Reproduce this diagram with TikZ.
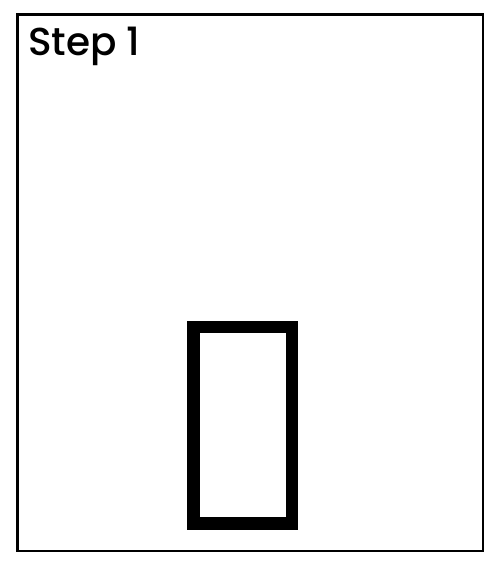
\documentclass[tikz,border=0pt]{standalone}
\usepackage{fontspec}
\setmainfont{Poppins Medium}
\usepackage{tikz}

\begin{document}
\begin{tikzpicture}[x=1pt, y=-1pt, frame/.style = {draw, line width=2.7pt}, block/.style = {draw, line width=12.5pt, inner sep=0pt, minimum width=98.5pt, minimum height=196.5pt}]
\useasboundingbox (0,0) rectangle (500,568);
\draw[frame] (17.5,14.7) rectangle (483,551);
\node[anchor=base west, inner sep=0pt, font=\fontsize{39}{39}\selectfont] (title) at (28,55) {Step 1};
\node[block] (box) at (242.75,425.25) {};
\end{tikzpicture}
\end{document}
